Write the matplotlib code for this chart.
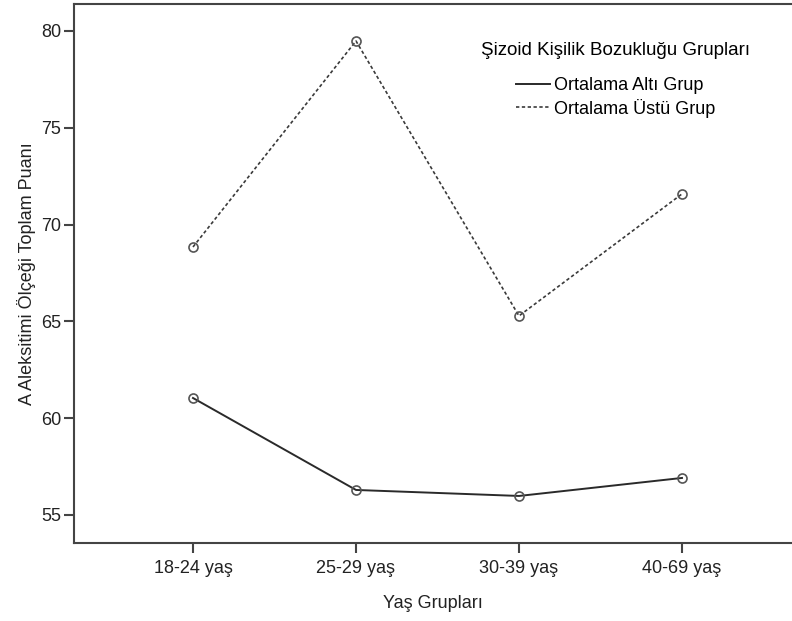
import numpy as np
import matplotlib
matplotlib.use("Agg")
from matplotlib import pyplot as plt

plt.rcParams['font.family'] = ['Liberation Sans', 'DejaVu Sans']

groups = ['18-24 yaş', '25-29 yaş', '30-39 yaş', '40-69 yaş']
alt_grup = [61.04, 56.29, 55.98, 56.91]
ustu_grup = [68.84, 79.48, 65.28, 71.58]
yticks = [55, 60, 65, 70, 75, 80]

x = np.arange(1, len(groups) + 1)

fig = plt.figure(figsize=(7.92, 6.21), dpi=100)
ax = fig.add_axes((74/792, 1 - 543/621, 1 - 74/792, (543 - 4)/621))

line_col = '#2a2a2a'
ax.plot(x, alt_grup, color=line_col, lw=1.4, label='Ortalama Altı Grup',
        marker='o', ms=6.5, mfc='none', mec='#555555', mew=1.2)
ax.plot(x, ustu_grup, color='#3a3a3a', lw=1.2, ls=(0, (2, 1.5)),
        label='Ortalama Üstü Grup',
        marker='o', ms=6.5, mfc='none', mec='#555555', mew=1.2)

ax.set_xlim(0.27, 0.27 + (792 - 74) / 163.0)
ax.set_ylim(53.55, 81.39)
ax.set_xticks(x)
ax.set_xticklabels(groups)
ax.set_yticks(yticks)

for s in ['left', 'bottom', 'top']:
    ax.spines[s].set_color('#444444')
    ax.spines[s].set_linewidth(1.5)
ax.spines['right'].set_visible(False)
ax.tick_params(axis='both', length=7.5, width=1.5, color='#444444',
               labelsize=13, labelcolor='#222222', pad=1.5)
ax.tick_params(axis='x', pad=5)

ax.set_xlabel('Yaş Grupları', fontsize=13, color='#222222', labelpad=13)
ax.set_ylabel('A Aleksitimi Ölçeği Toplam Puanı', fontsize=13,
              color='#222222', labelpad=4)

leg = ax.legend(title='Şizoid Kişilik Bozukluğu Grupları', frameon=False,
                loc='upper left', bbox_to_anchor=(474/792, 1 - 35/621),
                bbox_transform=fig.transFigure, fontsize=13, title_fontsize=13.5,
                handlelength=1.85, handletextpad=0.25, labelspacing=0.25,
                borderaxespad=0)
leg._legend_box.sep = 13
for h in leg.legend_handles:
    h.set_marker('')

fig.savefig('out.png', dpi=100)
